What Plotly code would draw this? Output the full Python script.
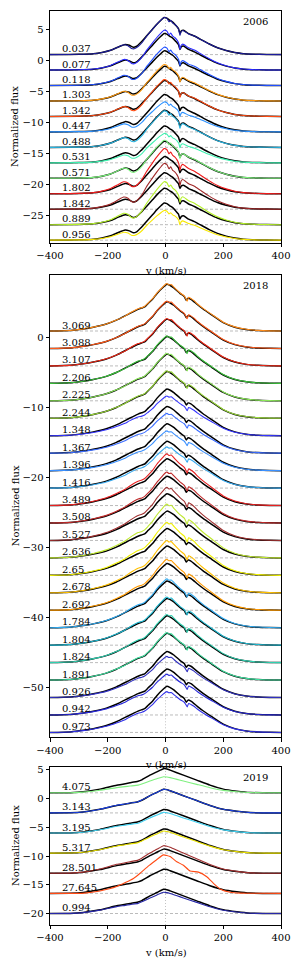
import plotly.graph_objects as go
import numpy as np

FONT = "DejaVu Serif"

# ---------------- 2006 panel ----------------
labels_2006 = ["0.037", "0.077", "0.118", "1.303", "1.342", "0.447", "0.488",
               "0.531", "0.571", "1.802", "1.842", "0.889", "0.956"]
offsets_2006 = [1, -1.5, -4, -6.5, -9, -11.5, -14, -16.5, -19, -21.5, -24, -26.5, -29]
colors_2006 = ["#1c1c9c", "#2a2aff", "#1f4fff", "#ff9a10", "#ff4a10", "#2a90ff", "#28b4e0",
               "#3ff0b0", "#7cf07c", "#ee1a1a", "#a02828", "#b4f028", "#f8e800"]
model_peak_2006 = [6.0, 5.9, 5.6, 5.6, 5.8, 6.05, 6.0, 5.95, 6.0, 6.0, 5.9, 5.9, 6.0]
obs_peak_2006 = [6.0, 6.45, 6.2, 5.9, 5.95, 4.85, 5.9, 4.75, 6.15, 7.3, 7.4, 6.95, 4.8]

v_model_2006 = [-400, -300, -250, -220, -190, -165, -140, -125, -112, -100, -85, -65, -45, -30,
                -15, -5, 5, 15, 25, 35, 45, 50, 55, 62, 80, 100, 120, 150, 180, 210, 240, 270,
                300, 350, 400]
f_model_2006 = [0, 0.05, 0.15, 0.35, 0.7, 1.2, 1.65, 1.5, 1.2, 1.35, 2.0, 3.05, 4.1, 4.9,
                5.6, 6.0, 5.9, 5.55, 5.25, 4.75, 4.2, 3.4, 3.85, 3.95, 3.4, 3.0, 2.5, 1.75, 1.1,
                0.65, 0.33, 0.15, 0.07, 0.02, 0]
v_obs_2006 = [-400, -300, -250, -220, -190, -165, -145, -130, -118, -108, -95, -80, -65, -45,
              -30, -15, -5, 5, 12, 18, 25, 32, 40, 46, 50, 54, 60, 80, 100, 120, 150, 180, 210,
              240, 270, 300, 350, 400]
f_obs_2006 = [0, 0.05, 0.15, 0.35, 0.7, 1.2, 1.6, 1.45, 1.0, 0.95, 1.3, 2.0, 3.0, 4.1,
              4.9, 5.6, 6.0, 5.85, 5.3, 5.55, 5.1, 4.9, 4.5, 4.0, 3.1, 3.7, 3.9, 3.35, 3.0, 2.5,
              1.75, 1.1, 0.65, 0.33, 0.15, 0.07, 0.02, 0]

# ---------------- 2018 panel ----------------
labels_2018 = ["3.069", "3.088", "3.107", "2.206", "2.225", "2.244", "1.348", "1.367",
               "1.396", "1.416", "3.489", "3.508", "3.527", "2.636", "2.65", "2.678", "2.692",
               "1.784", "1.804", "1.824", "1.891", "0.926", "0.942", "0.973"]
offsets_2018 = [1, -1.5, -4, -6.5, -9, -11.5, -14, -16.5, -19, -21.5, -24, -26.5, -29, -31.5,
                -34, -36.5, -39, -41.5, -44, -46.5, -49, -51.5, -54, -56.5]
colors_2018 = ["#ff8c1a", "#ff5a1a", "#f02a18", "#3cc43c", "#8ce85a", "#9ad83c", "#3535ff",
               "#3a6cff", "#3a90ff", "#38aaf0", "#e82020", "#c02a2a", "#a03030", "#c0e830",
               "#f0f000", "#ffc000", "#ff9a00", "#30aaf0", "#20b8d0", "#30d0b0", "#40e0a0",
               "#3030c0", "#2828d8", "#3030e8"]
model_peak_2018 = [6.7, 6.7, 6.7, 6.7, 6.7, 6.7, 6.7, 6.7, 6.7, 6.7, 6.7, 6.7, 6.7, 6.7,
                   6.7, 6.7, 6.7, 6.7, 6.7, 6.7, 6.7, 6.6, 6.6, 6.6]
obs_peak_2018 = [6.8, 6.8, 6.8, 6.8, 6.8, 6.8, 5.7, 5.7, 5.7, 5.9, 7.4, 7.3, 7.6, 7.7,
                 7.6, 7.5, 7.3, 7.0, 6.9, 6.9, 6.8, 5.9, 5.85, 5.85]

v_model_2018 = [-400, -330, -285, -250, -205, -170, -125, -95, -82, -72, -60, -45, -30, -10,
                5, 15, 30, 50, 65, 72, 78, 88, 110, 130, 160, 200, 240, 280, 320, 360, 400]
f_model_2018 = [0, 0.08, 0.3, 0.55, 1.0, 1.55, 2.5, 3.1, 3.3, 3.45, 3.95, 4.55, 5.35, 6.2,
                6.7, 6.55, 6.15, 5.4, 4.95, 4.4, 4.7, 4.55, 3.8, 3.15, 2.3, 1.2, 0.55, 0.22,
                0.08, 0.02, 0]
v_obs_2018 = [-400, -330, -285, -250, -205, -170, -140, -125, -95, -82, -72, -60, -45, -30,
              -10, 0, 5, 12, 20, 30, 50, 65, 70, 75, 80, 88, 100, 110, 130, 160, 200, 240,
              280, 320, 360, 400]
f_obs_2018 = [0, 0.08, 0.3, 0.55, 1.0, 1.55, 2.1, 2.5, 3.15, 3.3, 3.5, 3.95, 4.55, 5.35,
              6.2, 6.6, 6.7, 6.5, 6.55, 6.15, 5.4, 4.95, 4.6, 4.2, 4.75, 4.6, 4.25, 3.85, 3.2,
              2.35, 1.25, 0.58, 0.24, 0.09, 0.02, 0]

# ---------------- 2019 panel ----------------
labels_2019 = ["4.075", "3.143", "3.195", "5.317", "28.501", "27.645", "0.994"]
offsets_2019 = [1, -2.5, -6, -9.5, -13, -16.5, -20]
colors_2019 = ["#80f080", "#1a40e0", "#40d0f0", "#e8e000", "#a03030", "#ff4a14", "#2828a8"]
model_peak_2019 = [4.2, 4.1, 4.1, 4.2, 4.2, 4.2, 4.2]
obs_peak_2019 = [2.8, 4.1, 3.6, 3.85, 4.8, 6.7, 3.7]
obs_shape_2019 = ["broad", "broad", "broad", "broad", "broad", "narrow", "broad"]

v_model_2019 = [-400, -330, -285, -227, -169, -123, -95, -82, -54, -30, -7, 5, 16, 62, 108,
                154, 200, 247, 293, 350, 400]
f_model_2019 = [0, 0.02, 0.17, 0.64, 1.33, 1.74, 2.0, 2.25, 3.07, 3.65, 4.2, 4.15, 3.94,
                3.07, 2.2, 1.33, 0.64, 0.29, 0.06, 0, 0]
v_broad_2019 = [-400, -330, -285, -227, -169, -140, -123, -95, -82, -54, -30, -7, 5, 16, 40,
                62, 108, 154, 200, 247, 293, 350, 400]
f_broad_2019 = [0, 0.02, 0.17, 0.66, 1.36, 1.6, 1.76, 2.0, 2.3, 3.07, 3.65, 4.2, 4.12, 3.95,
                3.5, 3.07, 2.2, 1.33, 0.64, 0.29, 0.06, 0, 0]
v_narrow_2019 = [-400, -280, -227, -169, -111, -88, -70, -54, -30, -7, 16, 39, 62, 85, 114,
                 143, 166, 189, 224, 260, 300, 400]
f_narrow_2019 = [0, 0.05, 0.43, 1.2, 2.6, 3.5, 4.3, 4.95, 5.9, 6.7, 6.4, 5.5, 4.9, 3.9, 3.7,
                 2.9, 1.75, 0.78, 0.2, 0.05, 0.02, 0]

x_ticks = [-400, -200, 0, 200, 400]
years = ["2006", "2018", "2019"]
y_ranges = [[-29.45, 8.05], [-57.2, 8.96], [-22.0, 5.45]]
y_ticks = [[-25, -20, -15, -10, -5, 0, 5],
           [-50, -40, -30, -20, -10, 0],
           [-20, -15, -10, -5, 0, 5]]

# layout geometry (window pixels); the page body adds an 8 px offset
WIN_W, WIN_H = 299, 964
OFF = 8
PLOT_L, PLOT_R, PLOT_B = 50, 281, 925
W, H = WIN_W - OFF, WIN_H - OFF
ML, MR, MT, MB = PLOT_L - OFF, WIN_W - PLOT_R, 0, WIN_H - PLOT_B
plot_h = H - MT - MB
panel_px = [(8, 240.7), (273.3, 736.7), (766.7, 925)]
domains = [[(PLOT_B - b) / plot_h, min(1.0, (PLOT_B - t) / plot_h)] for t, b in panel_px]

fig = go.Figure()

def scaled(vals, peak):
    arr = np.array(vals, dtype=float)
    return arr * (peak / arr.max())

panels = [
    dict(labels=labels_2006, offs=offsets_2006, cols=colors_2006, mp=model_peak_2006,
         op=obs_peak_2006, vm=v_model_2006, fm=f_model_2006,
         obs=[(v_obs_2006, f_obs_2006)] * len(labels_2006)),
    dict(labels=labels_2018, offs=offsets_2018, cols=colors_2018, mp=model_peak_2018,
         op=obs_peak_2018, vm=v_model_2018, fm=f_model_2018,
         obs=[(v_obs_2018, f_obs_2018)] * len(labels_2018)),
    dict(labels=labels_2019, offs=offsets_2019, cols=colors_2019, mp=model_peak_2019,
         op=obs_peak_2019, vm=v_model_2019, fm=f_model_2019,
         obs=[(v_narrow_2019, f_narrow_2019) if s == "narrow" else (v_broad_2019, f_broad_2019)
              for s in obs_shape_2019]),
]

annotations = []
layout_axes = {}
for p, P in enumerate(panels):
    sfx = "" if p == 0 else str(p + 1)
    xa, ya = "x" + sfx, "y" + sfx
    for off in P["offs"]:
        fig.add_trace(go.Scatter(x=[-400, 400], y=[off, off], mode="lines",
                                 line=dict(color="#aaaaaa", width=0.8, dash="3px,2px"),
                                 xaxis=xa, yaxis=ya, hoverinfo="skip", showlegend=False))
    fig.add_trace(go.Scatter(x=[0, 0], y=y_ranges[p], mode="lines",
                             line=dict(color="#bbbbbb", width=0.9, dash="1px,2px"),
                             xaxis=xa, yaxis=ya, hoverinfo="skip", showlegend=False))
    for i, lab in enumerate(P["labels"]):
        vo, fo = P["obs"][i]
        fig.add_trace(go.Scatter(x=P["vm"], y=scaled(P["fm"], P["mp"][i]) + P["offs"][i],
                                 mode="lines",
                                 line=dict(color="black", width=1.5, shape="spline",
                                           smoothing=0.5),
                                 xaxis=xa, yaxis=ya, hoverinfo="skip", showlegend=False))
        fig.add_trace(go.Scatter(x=vo, y=scaled(fo, P["op"][i]) + P["offs"][i], mode="lines",
                                 line=dict(color=P["cols"][i], width=1.1, shape="spline",
                                           smoothing=0.5),
                                 xaxis=xa, yaxis=ya, hoverinfo="skip", showlegend=False))
        annotations.append(dict(x=-365, y=P["offs"][i], xref=xa, yref=ya, text=lab,
                                showarrow=False, xanchor="left", yanchor="middle", yshift=6,
                                font=dict(family=FONT, size=10, color="black")))
    annotations.append(dict(x=0.952, y=1, xref=xa + " domain", yref=ya + " domain",
                            text=years[p], showarrow=False, xanchor="right", yanchor="top",
                            yshift=-3, font=dict(family=FONT, size=10, color="black")))
    annotations.append(dict(x=0.5, y=0, xref=xa + " domain", yref=ya + " domain",
                            text="v (km/s)", showarrow=False, xanchor="center", yanchor="top",
                            yshift=-20, font=dict(family=FONT, size=10, color="black")))
    annotations.append(dict(x=(15 - PLOT_L) / (PLOT_R - PLOT_L), y=0.5, xref="paper",
                            yref=ya + " domain", text="Normalized flux", showarrow=False,
                            textangle=-90, xanchor="center", yanchor="middle",
                            font=dict(family=FONT, size=10, color="black")))
    layout_axes["xaxis" + sfx] = dict(
        domain=[0, 1], anchor=ya, range=[-400, 400], tickvals=x_ticks, ticks="outside",
        ticklen=3.5, tickwidth=0.8, tickcolor="black", showline=True, mirror=True,
        linecolor="black", linewidth=0.9, showgrid=False, zeroline=False,
        tickfont=dict(family=FONT, size=10, color="black"))
    layout_axes["yaxis" + sfx] = dict(
        domain=domains[p], anchor=xa, range=y_ranges[p], tickvals=y_ticks[p], ticks="outside",
        ticklen=3.5, tickwidth=0.8, tickcolor="black", showline=True, mirror=True,
        linecolor="black", linewidth=0.9, showgrid=False, zeroline=False,
        tickfont=dict(family=FONT, size=10, color="black"))

fig.update_layout(width=W, height=H, margin=dict(l=ML, r=MR, t=MT, b=MB),
                  paper_bgcolor="white", plot_bgcolor="white", showlegend=False,
                  annotations=annotations, **layout_axes)

fig.write_html("out.html")
